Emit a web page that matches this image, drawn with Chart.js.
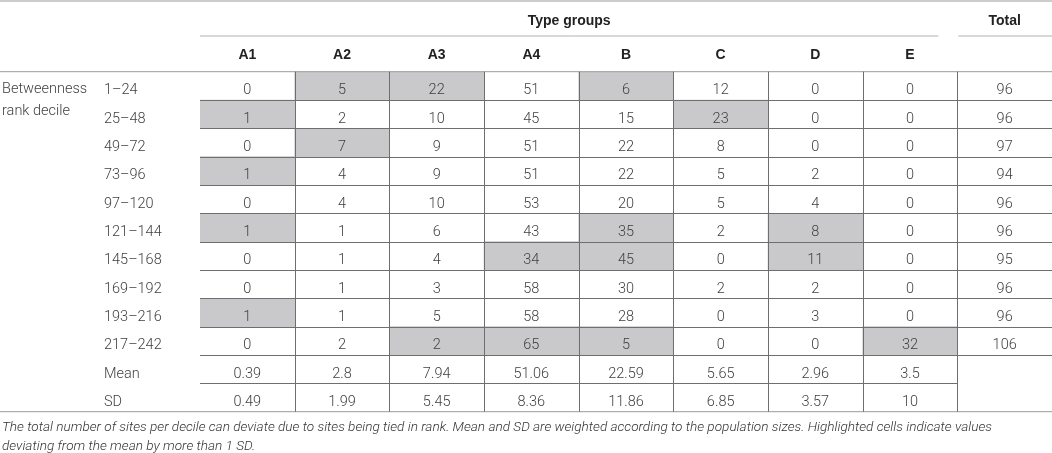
<!DOCTYPE html>
<html>
<head>
<meta charset="utf-8">
<script src="https://cdn.jsdelivr.net/npm/chart.js@4"></script>
<style>
  html, body { margin: 0; padding: 0; background: #fff; }
  canvas { display: block; }
</style>
</head>
<body>
<canvas id="table" width="1052" height="453"></canvas>
<script>
// columns of the table
const typeGroups = ['A1', 'A2', 'A3', 'A4', 'B', 'C', 'D', 'E'];
const columns = typeGroups.concat(['Total']);

// betweenness rank deciles
const deciles = ['1–24', '25–48', '49–72', '73–96', '97–120', '121–144', '145–168', '169–192', '193–216', '217–242'];

// counts per decile, one array per row (A1 .. E)
const counts = [
    [0, 5, 22, 51, 6, 12, 0, 0],
    [1, 2, 10, 45, 15, 23, 0, 0],
    [0, 7, 9, 51, 22, 8, 0, 0],
    [1, 4, 9, 51, 22, 5, 2, 0],
    [0, 4, 10, 53, 20, 5, 4, 0],
    [1, 1, 6, 43, 35, 2, 8, 0],
    [0, 1, 4, 34, 45, 0, 11, 0],
    [0, 1, 3, 58, 30, 2, 2, 0],
    [1, 1, 5, 58, 28, 0, 3, 0],
    [0, 2, 2, 65, 5, 0, 0, 32]
];
const totals = [96, 96, 97, 94, 96, 96, 95, 96, 96, 106];
const means = ['0.39', '2.8', '7.94', '51.06', '22.59', '5.65', '2.96', '3.5'];
const sds = ['0.49', '1.99', '5.45', '8.36', '11.86', '6.85', '3.57', '10'];

const caption = [
    'The total number of sites per decile can deviate due to sites being tied in rank. Mean and SD are weighted according to the population sizes. Highlighted cells indicate values',
    'deviating from the mean by more than 1 SD.'
];

// highlighted cells: value more than 1 SD away from the mean
var highlights = [];
counts.forEach((row, r) => {
    row.forEach((v, c) => {
        if (Math.abs(v - parseFloat(means[c])) > parseFloat(sds[c])) {
            highlights.push({x: typeGroups[c], y: [r, r + 1]});
        }
    });
});

const nRows = deciles.length + 2;
const textColor = '#3f3f3f';
const numFont = '300 14.5px Roboto, "Liberation Sans", sans-serif';
const boldFont = 'bold 14px "Liberation Sans", Arial, sans-serif';

function line(ctx, x1, y1, x2, y2, color) {
    ctx.strokeStyle = color;
    ctx.lineWidth = 1;
    ctx.beginPath();
    ctx.moveTo(x1, y1);
    ctx.lineTo(x2, y2);
    ctx.stroke();
}

const tablePlugin = {
    id: 'tablePlugin',
    afterDatasetsDraw(chart) {
        const ctx = chart.ctx;
        const xs = chart.scales.x;
        const ys = chart.scales.y;
        const W = chart.width;
        const colW = xs.width / columns.length;
        const edge = i => xs.getPixelForValue(i) - colW / 2;
        const top = ys.getPixelForValue(0);
        const bottom = ys.getPixelForValue(nRows);
        const totalEdge = edge(columns.length - 1);

        ctx.save();
        // rules
        line(ctx, 0, 1, W, 1, '#9a9a9a');
        line(ctx, xs.left, 36, totalEdge - 19, 36, '#b0b0b0');
        line(ctx, totalEdge + 1, 36, W, 36, '#b0b0b0');
        line(ctx, 0, top, W, top, '#9a9a9a');
        line(ctx, 0, bottom, W, bottom, '#9a9a9a');
        for (let r = 1; r < nRows; r++) {
            const py = Math.round(ys.getPixelForValue(r)) + 0.5;
            const end = r === nRows - 1 ? totalEdge : xs.right;
            line(ctx, xs.left, py, end, py, '#6e6e6e');
        }
        for (let c = 1; c < columns.length; c++) {
            const px = Math.round(edge(c)) + 0.5;
            line(ctx, px, top, px, bottom, '#6e6e6e');
        }

        // headers
        ctx.fillStyle = '#222';
        ctx.font = boldFont;
        ctx.textAlign = 'center';
        ctx.textBaseline = 'middle';
        ctx.fillText('Type groups', (xs.left + totalEdge - 19) / 2, 21);
        ctx.fillText('Total', (totalEdge + W) / 2, 21);
        columns.slice(0, typeGroups.length).forEach((name, c) => {
            ctx.fillText(name, xs.getPixelForValue(c), 55);
        });

        // cells
        ctx.fillStyle = textColor;
        ctx.font = numFont;
        const cy = r => ys.getPixelForValue(r + 0.5) + 5;
        counts.forEach((row, r) => {
            row.forEach((v, c) => ctx.fillText(String(v), xs.getPixelForValue(c), cy(r)));
            ctx.fillText(String(totals[r]), xs.getPixelForValue(columns.length - 1), cy(r));
        });
        means.forEach((v, c) => ctx.fillText(v, xs.getPixelForValue(c), cy(deciles.length)));
        sds.forEach((v, c) => ctx.fillText(v, xs.getPixelForValue(c), cy(deciles.length + 1)));

        // row labels
        ctx.textAlign = 'left';
        deciles.forEach((d, r) => ctx.fillText(d, 104, cy(r)));
        ctx.fillText('Mean', 104, cy(deciles.length));
        ctx.fillText('SD', 104, cy(deciles.length + 1));
        ctx.fillText('Betweenness', 2, cy(0) - 1);
        ctx.fillText('rank decile', 2, cy(0) + 21);

        // footnote
        ctx.fillStyle = '#333';
        ctx.font = 'italic 300 13.6px Roboto, "Liberation Sans", sans-serif';
        ctx.fillText(caption[0], 2, 428);
        ctx.fillText(caption[1], 2, 447);
        ctx.restore();
    }
};

new Chart(document.getElementById('table'), {
    type: 'bar',
    data: {
        labels: columns,
        datasets: [{
            data: highlights,
            backgroundColor: '#c9c9cb',
            borderWidth: 0,
            barPercentage: 1,
            categoryPercentage: 1
        }]
    },
    options: {
        responsive: false,
        animation: false,
        layout: {
            padding: {left: 200, right: 0, top: 71.7, bottom: 41.3}
        },
        plugins: {
            legend: {display: false},
            tooltip: {enabled: false}
        },
        scales: {
            x: {display: false},
            y: {display: false, min: 0, max: nRows, reverse: true}
        }
    },
    plugins: [tablePlugin]
});
</script>
</body>
</html>
